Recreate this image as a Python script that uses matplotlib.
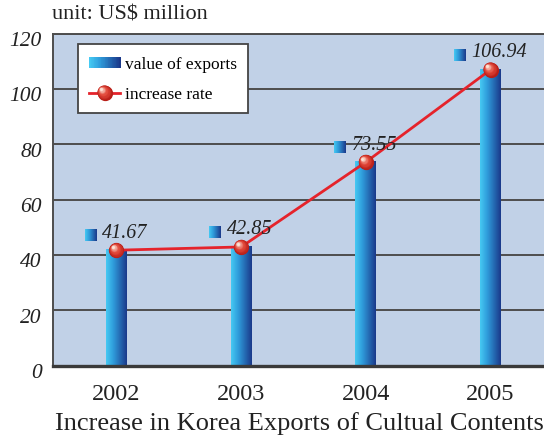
import numpy as np
import matplotlib
matplotlib.use("Agg")
import matplotlib.pyplot as plt
import matplotlib.transforms as mtransforms
from matplotlib.colors import LinearSegmentedColormap, to_rgb
from matplotlib.lines import Line2D
from matplotlib.patches import Rectangle
from matplotlib.legend_handler import HandlerBase

# ---- data -------------------------------------------------------------
years = ["2002", "2003", "2004", "2005"]
exports = [41.67, 42.85, 73.55, 106.94]          # value of exports, US$ million
rate_line = [41.67, 42.85, 73.55, 106.94]        # increase-rate line follows bar tops
yticks = [0, 20, 40, 60, 80, 100, 120]

plt.rcParams["font.family"] = ["Liberation Serif", "DejaVu Serif"]

DPI = 100
W, H = 544, 441
fig = plt.figure(figsize=(W / DPI, H / DPI), dpi=DPI)
ax_left, ax_top, ax_bottom = 53, 33.5, 365.5
ax = fig.add_axes([ax_left / W, 1 - ax_bottom / H, 1 - ax_left / W, (ax_bottom - ax_top) / H])
ax.set_facecolor("#c1d1e7")

bar_cmap = LinearSegmentedColormap.from_list(
    "bar", [(0.0, "#46caf3"), (0.35, "#2f9cdb"), (1.0, "#1a388a")])
grad = np.linspace(0, 1, 256).reshape(1, -1)

x = np.arange(len(years))
bar_w = 0.168
bars = ax.bar(x, exports, width=bar_w, color="none", zorder=2)
for b in bars:
    x0, y0 = b.get_x(), b.get_y()
    ax.imshow(grad, cmap=bar_cmap, aspect="auto", interpolation="bilinear",
              extent=(x0, x0 + b.get_width(), y0, y0 + b.get_height()), zorder=2)

ax.set_xlim(-0.509, 3.428)
ax.set_ylim(0, 120)
ax.set_yticks(yticks)
ax.set_xticks(x)
ax.set_xticklabels(years)
ax.grid(axis="y", color="#4d4d4d", lw=1.4)
ax.set_axisbelow(True)
ax.spines["right"].set_visible(False)
ax.spines["top"].set_color("#4d4d4d")
ax.spines["top"].set_linewidth(1.4)
ax.spines["left"].set_color("#4d4d4d")
ax.spines["left"].set_linewidth(1.4)
ax.spines["bottom"].set_color("#3a3a3a")
ax.spines["bottom"].set_linewidth(2.4)
ax.tick_params(axis="both", length=0)
ax.tick_params(axis="y", pad=8, labelsize=15.5, labelcolor="#222222")
ax.tick_params(axis="x", pad=13, labelsize=17.5, labelcolor="#222222")
for lbl in ax.get_yticklabels():
    lbl.set_fontstyle("italic")
    lbl.set_transform(lbl.get_transform() +
                      mtransforms.ScaledTranslation(0, -4 / 72, fig.dpi_scale_trans))

# ---- increase-rate line with glossy sphere markers ---------------------
LINE_RED = "#e5232b"
ax.plot(x, rate_line, color=LINE_RED, lw=2.0, zorder=4)

edge_c = np.array(to_rgb("#b81e18"))
mid_c = np.array(to_rgb("#e2483a"))
hi_c = np.array(to_rgb("#fde3d6"))


def sphere_layers(diam_pt, n=14):
    """Return (size, dx, dy, color) tuples building a shaded ball."""
    out = []
    for i in range(n):
        t = i / (n - 1)
        d = diam_pt * (1 - 0.82 * t)
        shift = (diam_pt - d) / 2 * 0.55
        if t < 0.5:
            c = edge_c + (mid_c - edge_c) * (t / 0.5)
        else:
            c = mid_c + (hi_c - mid_c) * ((t - 0.5) / 0.5) ** 1.3
        out.append((d, -shift, shift, tuple(c)))
    return out


BALL = 11
for d, dx, dy, c in sphere_layers(BALL):
    tr = ax.transData + mtransforms.ScaledTranslation(dx / 72, dy / 72, fig.dpi_scale_trans)
    ax.plot(x, rate_line, ls="none", marker="o", ms=d, mfc=c, mec="none",
            transform=tr, zorder=5, clip_on=False)

# ---- value labels with gradient squares --------------------------------
label_texts = []
for xi, v in zip(x, exports):
    t = ax.annotate(f"{v:.2f}", xy=(xi, v), xytext=(6, 9), textcoords="offset points",
                    ha="center", va="baseline", fontsize=14.5, fontstyle="italic",
                    color="#222222", zorder=6)
    label_texts.append(t)

fig.canvas.draw()
inv = ax.transData.inverted()
for t in label_texts:
    bb = t.get_window_extent()
    sq = 12
    px0 = bb.x0 - 17.5
    py0 = bb.y0 + 1.5
    (dx0, dy0) = inv.transform((px0, py0))
    (dx1, dy1) = inv.transform((px0 + sq, py0 + sq))
    ax.imshow(grad, cmap=bar_cmap, aspect="auto", interpolation="bilinear",
              extent=(dx0, dx1, dy0, dy1), zorder=6)
ax.set_xlim(-0.509, 3.428)
ax.set_ylim(0, 120)


# ---- legend -----------------------------------------------------------
class GradientHandler(HandlerBase):
    def create_artists(self, legend, orig_handle, xdescent, ydescent,
                       width, height, fontsize, trans):
        arts = []
        n = 40
        h = height * 0.7
        y0 = -ydescent + (height - h) / 2
        for i in range(n):
            c = bar_cmap(i / (n - 1))
            r = Rectangle((-xdescent + width * i / n, y0), width / n + 0.3, h,
                          facecolor=c, edgecolor="none", transform=trans)
            arts.append(r)
        return arts


class BallLineHandler(HandlerBase):
    def create_artists(self, legend, orig_handle, xdescent, ydescent,
                       width, height, fontsize, trans):
        yc = -ydescent + height / 2
        xc = -xdescent + width / 2
        arts = [Line2D([-xdescent, -xdescent + width], [yc, yc], color=LINE_RED,
                       lw=2.0, transform=trans)]
        for d, dx, dy, c in sphere_layers(BALL):
            arts.append(Line2D([xc + dx], [yc + dy], ls="none", marker="o", ms=d,
                               mfc=c, mec="none", transform=trans))
        return arts


h_bar = Rectangle((0, 0), 1, 1)
h_line = Line2D([], [])
leg = fig.legend([h_bar, h_line], ["value of exports", "increase rate"],
                 handler_map={Rectangle: GradientHandler(), Line2D: BallLineHandler()},
                 loc="upper left", bbox_to_anchor=(78 / W, 1 - 44 / H),
                 bbox_transform=fig.transFigure, borderaxespad=0,
                 fontsize=12.5, frameon=True, fancybox=False, framealpha=1,
                 edgecolor="#444444", handlelength=1.8, handleheight=1.0,
                 labelspacing=0.7, borderpad=0.63, handletextpad=0.3)
leg.get_frame().set_linewidth(1.3)
leg.set_zorder(10)

# ---- titles -----------------------------------------------------------
fig.text(52 / W, 1 - 15 / H, "unit: US$ million", fontsize=16, color="#222222",
         ha="left", va="center")
fig.text(299 / W, 1 - 424 / H, "Increase in Korea Exports of Cultual Contents",
         fontsize=19, color="#222222", ha="center", va="center")

fig.savefig("out.png", dpi=DPI)
